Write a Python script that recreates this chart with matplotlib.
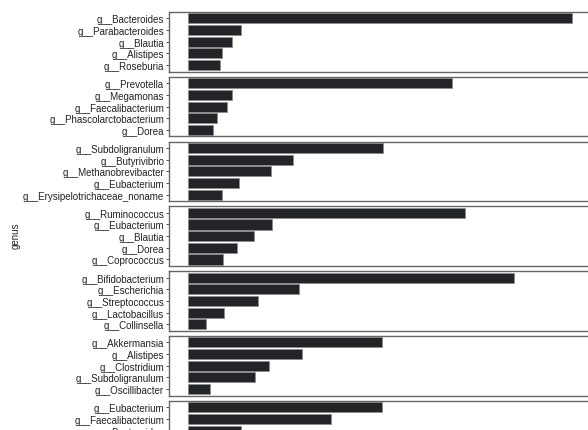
import matplotlib.pyplot as plt

# top genera per group, in plotting order (top to bottom)
genus_1 = ['g__Bacteroides', 'g__Parabacteroides', 'g__Blautia', 'g__Alistipes', 'g__Roseburia']
abund_1 = [38.4, 5.3, 4.4, 3.4, 3.2]

genus_2 = ['g__Prevotella', 'g__Megamonas', 'g__Faecalibacterium', 'g__Phascolarctobacterium', 'g__Dorea']
abund_2 = [26.4, 4.4, 3.9, 2.9, 2.5]

genus_3 = ['g__Subdoligranulum', 'g__Butyrivibrio', 'g__Methanobrevibacter', 'g__Eubacterium',
           'g__Erysipelotrichaceae_noname']
abund_3 = [19.5, 10.5, 8.3, 5.1, 3.4]

genus_4 = ['g__Ruminococcus', 'g__Eubacterium', 'g__Blautia', 'g__Dorea', 'g__Coprococcus']
abund_4 = [27.7, 8.4, 6.6, 4.9, 3.5]

genus_5 = ['g__Bifidobacterium', 'g__Escherichia', 'g__Streptococcus', 'g__Lactobacillus', 'g__Collinsella']
abund_5 = [32.6, 11.1, 7.0, 3.6, 1.8]

genus_6 = ['g__Akkermansia', 'g__Alistipes', 'g__Clostridium', 'g__Subdoligranulum', 'g__Oscillibacter']
abund_6 = [19.4, 11.4, 8.1, 6.7, 2.2]

genus_7 = ['g__Eubacterium', 'g__Faecalibacterium', 'g__Bacteroides']
abund_7 = [19.4, 14.3, 5.3]

groups = [(genus_1, abund_1), (genus_2, abund_2), (genus_3, abund_3), (genus_4, abund_4),
          (genus_5, abund_5), (genus_6, abund_6), (genus_7, abund_7)]

W, H = 588, 431
fig = plt.figure(figsize=(W / 100, H / 100), dpi=100)
plt.rcParams['font.family'] = ['Liberation Sans', 'DejaVu Sans']

vmax = max(max(a) for _, a in groups)
xlim = (-0.05 * vmax, 1.05 * vmax)

left_px = 169
right_px = 591
top_px = 13
panel_h = 59.5
step = 64.8

for i, (names, vals) in enumerate(groups):
    top = top_px + i * step
    ax = fig.add_axes([left_px / W, 1 - (top + panel_h) / H,
                       (right_px - left_px) / W, panel_h / H])
    ax.barh(range(len(vals)), vals, height=0.86, color='#222428',
            edgecolor='#8a8a8a', linewidth=0.5)
    ax.set_yticks(range(len(names)))
    ax.set_yticklabels(names, fontsize=7, color='#222222')
    ax.set_ylim(4.55, -0.55)
    ax.set_xlim(*xlim)
    ax.set_xticks([])
    ax.tick_params(axis='y', length=2.5, width=0.6, pad=1, color='#333333')
    for s in ax.spines.values():
        s.set_color('#666666')
        s.set_linewidth(1.0)

fig.text(16 / W, 1 - 236 / H, 'genus', rotation=90, fontsize=7,
         ha='center', va='center', color='#222222')

plt.savefig('out.png', dpi=100)
